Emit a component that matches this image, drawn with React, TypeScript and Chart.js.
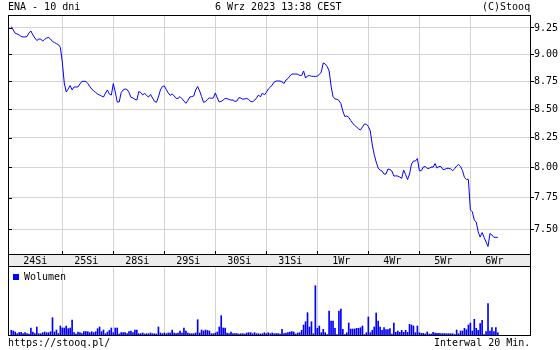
import React, { useEffect, useRef } from "react";
import { Chart, registerables } from "chart.js";

Chart.register(...registerables);

const FONT = "'DejaVu Sans Mono', monospace";
const GRID = "#d3d3d3";
const BAND = "#ececec";
const BLUE = "#0000ff";

// ---- data ----
const dayLabels = ["24Si", "25Si", "28Si", "29Si", "30Si", "31Si", "1Wr", "4Wr", "5Wr", "6Wr"];
const barsPerDay = 26; // 20-minute bars per session
const priceTicks = [7.5, 7.75, 8.0, 8.25, 8.5, 8.75, 9.0, 9.25];

const priceByDay: number[][] = [
  [9.263, 9.231, 9.199, 9.192, 9.183, 9.168, 9.164, 9.164, 9.168, 9.202, 9.221, 9.183, 9.154, 9.13, 9.144, 9.144, 9.125, 9.141, 9.154, 9.159, 9.144, 9.12, 9.111, 9.101, 9.091, 9.067],
  [8.928, 8.735, 8.653, 8.681, 8.712, 8.672, 8.699, 8.699, 8.699, 8.726, 8.75, 8.75, 8.75, 8.73, 8.703, 8.681, 8.662, 8.649, 8.635, 8.626, 8.617, 8.608, 8.644, 8.672, 8.635, 8.626],
  [8.73, 8.654, 8.564, 8.564, 8.648, 8.672, 8.681, 8.676, 8.649, 8.605, 8.6, 8.588, 8.582, 8.657, 8.648, 8.627, 8.642, 8.621, 8.609, 8.631, 8.6, 8.569, 8.561, 8.609, 8.672, 8.703],
  [8.708, 8.676, 8.645, 8.623, 8.636, 8.618, 8.596, 8.596, 8.612, 8.594, 8.573, 8.552, 8.578, 8.609, 8.612, 8.618, 8.672, 8.703, 8.663, 8.612, 8.561, 8.567, 8.587, 8.6, 8.597, 8.6],
  [8.645, 8.6, 8.564, 8.569, 8.582, 8.596, 8.593, 8.587, 8.58, 8.582, 8.569, 8.573, 8.603, 8.599, 8.589, 8.591, 8.596, 8.587, 8.567, 8.567, 8.578, 8.6, 8.627, 8.609, 8.645, 8.627],
  [8.651, 8.681, 8.696, 8.717, 8.744, 8.753, 8.753, 8.753, 8.746, 8.73, 8.762, 8.775, 8.799, 8.817, 8.817, 8.817, 8.815, 8.805, 8.803, 8.845, 8.78, 8.799, 8.803, 8.797, 8.796, 8.794],
  [8.799, 8.812, 8.835, 8.919, 8.91, 8.887, 8.845, 8.708, 8.612, 8.591, 8.588, 8.578, 8.55, 8.484, 8.435, 8.44, 8.428, 8.4, 8.378, 8.357, 8.344, 8.328, 8.318, 8.344, 8.37, 8.367],
  [8.348, 8.309, 8.189, 8.108, 8.045, 7.995, 7.978, 7.97, 7.945, 7.945, 7.987, 7.982, 7.97, 7.928, 7.93, 7.928, 7.92, 7.909, 7.978, 7.94, 7.9, 7.945, 8.028, 8.053, 8.053, 8.074],
  [7.973, 7.973, 8.002, 8.007, 7.992, 7.992, 8.002, 8.002, 8.032, 7.994, 8.008, 8.007, 7.982, 7.984, 7.992, 7.992, 7.988, 7.972, 7.99, 8.011, 8.025, 8.007, 7.973, 7.916, 7.901, 7.9],
  [7.653, 7.64, 7.573, 7.557, 7.479, 7.44, 7.475, 7.438, 7.402, 7.367, 7.468, 7.456, 7.438, 7.438, 7.438],
];

const volumeByDay: number[][] = [
  [47, 40, 30, 13, 23, 27, 13, 23, 13, 8, 70, 30, 13, 80, 13, 13, 23, 30, 23, 23, 33, 173, 30, 50, 15, 90],
  [70, 70, 90, 63, 70, 150, 23, 10, 30, 23, 13, 33, 33, 33, 23, 33, 23, 33, 63, 80, 33, 50, 13, 30, 47, 70],
  [23, 70, 70, 10, 23, 23, 23, 13, 33, 40, 23, 50, 50, 13, 13, 20, 10, 13, 13, 20, 13, 13, 10, 80, 20, 13],
  [20, 13, 20, 20, 50, 20, 13, 20, 40, 20, 70, 40, 20, 13, 13, 13, 20, 153, 20, 50, 40, 50, 45, 40, 13, 13],
  [20, 30, 80, 193, 70, 70, 20, 13, 30, 13, 13, 13, 10, 13, 13, 10, 20, 23, 23, 13, 23, 13, 13, 10, 13, 23],
  [13, 23, 13, 20, 13, 13, 13, 10, 57, 13, 20, 23, 30, 33, 30, 10, 20, 23, 47, 100, 133, 223, 80, 133, 13, 493],
  [67, 90, 23, 57, 23, 5, 240, 140, 140, 67, 5, 240, 260, 57, 5, 23, 120, 60, 60, 60, 67, 67, 73, 90, 5, 23],
  [180, 23, 47, 80, 220, 140, 80, 47, 73, 53, 53, 63, 10, 120, 27, 40, 27, 47, 27, 47, 27, 107, 100, 90, 23, 90],
  [23, 17, 17, 10, 30, 10, 10, 27, 20, 17, 17, 13, 13, 13, 13, 13, 13, 13, 5, 50, 13, 40, 40, 67, 53, 100],
  [120, 40, 157, 67, 47, 113, 147, 5, 33, 313, 40, 73, 33, 73, 23],
];

// ---- axis ranges ----
const X_MIN = -1.68;
const X_MAX = 264.4;
const Y_MIN = 7.31;
const Y_MAX = 9.376;
const VOL_MAX = 680;
const LABEL_OFFSET = 12.24;

const boundaries = dayLabels.slice(1).map((_, i) => (i + 1) * barsPerDay);
const labelPos = dayLabels.map((_, i) => i * barsPerDay + LABEL_OFFSET);

const pricePoints = priceByDay.flatMap((day, d) => day.map((p, k) => ({ x: d * barsPerDay + k, y: p })));
const volumePoints = volumeByDay.flatMap((day, d) => day.map((v, k) => ({ x: d * barsPerDay + k, y: v })));

const priceDeco = {
  id: "priceDeco",
  beforeDraw(chart: any) {
    const { ctx, chartArea: a } = chart;
    ctx.save();
    ctx.fillStyle = BAND;
    ctx.fillRect(a.left, a.bottom, a.right - a.left, 12);
    ctx.restore();
  },
  afterDraw(chart: any) {
    const { ctx, chartArea: a, scales } = chart;
    ctx.save();
    ctx.strokeStyle = "#000";
    ctx.lineWidth = 1;
    ctx.beginPath();
    ctx.moveTo(a.left, a.top + 0.5);
    ctx.lineTo(a.right + 1, a.top + 0.5);
    ctx.moveTo(a.left + 0.5, a.top);
    ctx.lineTo(a.left + 0.5, chart.height);
    ctx.moveTo(a.right + 0.5, a.top);
    ctx.lineTo(a.right + 0.5, chart.height);
    ctx.moveTo(a.left, a.bottom + 12.5);
    ctx.lineTo(a.right + 1, a.bottom + 12.5);
    boundaries.forEach((b) => {
      const px = Math.round(scales.x.getPixelForValue(b)) + 0.5;
      ctx.moveTo(px, a.bottom - 3);
      ctx.lineTo(px, a.bottom);
    });
    priceTicks.forEach((t) => {
      const py = Math.round(scales.y.getPixelForValue(t)) + 0.5;
      ctx.moveTo(a.left, py);
      ctx.lineTo(a.left + 4, py);
    });
    ctx.stroke();
    ctx.restore();
  },
};

const volDeco = {
  id: "volDeco",
  afterDraw(chart: any) {
    const { ctx, chartArea: a } = chart;
    ctx.save();
    ctx.strokeStyle = "#000";
    ctx.lineWidth = 1;
    ctx.beginPath();
    ctx.moveTo(a.left + 0.5, 0);
    ctx.lineTo(a.left + 0.5, a.bottom + 1);
    ctx.moveTo(a.right + 0.5, 0);
    ctx.lineTo(a.right + 0.5, a.bottom + 1);
    ctx.stroke();
    ctx.restore();
  },
};

const textStyle: React.CSSProperties = {
  position: "absolute",
  fontFamily: FONT,
  fontSize: "10px",
  lineHeight: "12px",
  color: "#000",
  whiteSpace: "pre",
};

export default function App() {
  const priceRef = useRef<HTMLCanvasElement | null>(null);
  const volRef = useRef<HTMLCanvasElement | null>(null);

  useEffect(() => {
    const tickFont = { family: FONT, size: 10 };
    const priceChart = new Chart(priceRef.current as HTMLCanvasElement, {
      type: "line",
      data: {
        datasets: [
          {
            label: "ENA",
            data: pricePoints,
            borderColor: BLUE,
            borderWidth: 1,
            pointRadius: 0,
            tension: 0,
            fill: false,
          },
        ],
      },
      options: {
        animation: false,
        responsive: false,
        devicePixelRatio: 1,
        events: [],
        layout: { padding: { left: 8, top: 15, right: 0, bottom: 0 } },
        plugins: { legend: { display: false }, tooltip: { enabled: false } },
        scales: {
          x: {
            type: "linear",
            min: X_MIN,
            max: X_MAX,
            bounds: "data",
            offset: false,
            position: "bottom",
            afterBuildTicks: (s: any) => {
              s.ticks = [...boundaries, ...labelPos].sort((a, b) => a - b).map((v) => ({ value: v }));
            },
            afterFit: (s: any) => {
              s.height = 13;
            },
            grid: {
              offset: false,
              color: (ctx: any) => (ctx.tick && boundaries.includes(ctx.tick.value) ? GRID : "rgba(0,0,0,0)"),
              drawTicks: false,
              lineWidth: 1,
            },
            border: { display: true, color: "#000" },
            ticks: {
              autoSkip: false,
              maxRotation: 0,
              minRotation: 0,
              padding: 1,
              color: "#000",
              font: tickFont,
              callback: (v: any) => {
                const k = labelPos.indexOf(Number(v));
                return k >= 0 ? dayLabels[k] : "";
              },
            },
          },
          y: {
            type: "logarithmic",
            position: "right",
            min: Y_MIN,
            max: Y_MAX,
            bounds: "data",
            afterBuildTicks: (s: any) => {
              s.ticks = priceTicks.map((v) => ({ value: v }));
            },
            afterFit: (s: any) => {
              s.width = 30;
            },
            grid: { color: GRID, drawTicks: true, tickLength: 4, tickColor: "#000", lineWidth: 1 },
            border: { display: true, color: "#000" },
            ticks: {
              padding: 0,
              color: "#000",
              font: tickFont,
              autoSkip: false,
              callback: (v: any) => Number(v).toFixed(2),
            },
          },
        },
      } as any,
      plugins: [priceDeco],
    });

    const volChart = new Chart(volRef.current as HTMLCanvasElement, {
      type: "bar",
      data: {
        datasets: [
          {
            label: "Wolumen",
            data: volumePoints as any,
            backgroundColor: BLUE,
            borderColor: BLUE,
            borderWidth: 0,
            barThickness: 1,
          },
        ],
      },
      options: {
        animation: false,
        responsive: false,
        devicePixelRatio: 1,
        events: [],
        layout: { padding: { left: 8, top: 0, right: 30, bottom: 15 } },
        plugins: {
          legend: {
            position: "chartArea",
            align: "start",
            labels: { boxWidth: 6, boxHeight: 6, padding: 5, color: "#000", font: tickFont },
          },
          tooltip: { enabled: false },
        },
        scales: {
          x: {
            type: "linear",
            min: X_MIN,
            max: X_MAX,
            bounds: "data",
            offset: false,
            afterBuildTicks: (s: any) => {
              s.ticks = boundaries.map((v) => ({ value: v }));
            },
            afterFit: (s: any) => {
              s.height = 0;
            },
            grid: { offset: false, color: GRID, drawTicks: false, lineWidth: 1 },
            border: { display: true, color: "#000" },
            ticks: { display: false },
          },
          y: { display: false, min: 0, max: VOL_MAX },
        },
      } as any,
      plugins: [volDeco],
    });

    return () => {
      priceChart.destroy();
      volChart.destroy();
    };
  }, []);

  return (
    <div style={{ position: "absolute", left: 0, top: 0, width: 560, height: 350, background: "#fff", overflow: "hidden" }}>
      <canvas ref={priceRef} width={560} height={267} style={{ position: "absolute", left: 0, top: 0, width: 560, height: 267 }} />
      <canvas ref={volRef} width={560} height={83} style={{ position: "absolute", left: 0, top: 267, width: 560, height: 83 }} />
      <div style={{ ...textStyle, left: 8, top: 1 }}>ENA - 10 dni</div>
      <div style={{ ...textStyle, left: 215, top: 1 }}>6 Wrz 2023 13:38 CEST</div>
      <div style={{ ...textStyle, left: 482, top: 1 }}>(C)Stooq</div>
      <div style={{ ...textStyle, left: 8, top: 337 }}>https://stooq.pl/</div>
      <div style={{ ...textStyle, left: 434, top: 337 }}>Interwal 20 Min.</div>
    </div>
  );
}
